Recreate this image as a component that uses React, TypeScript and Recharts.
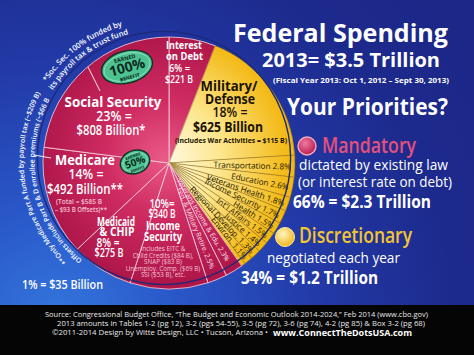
import { PieChart, Pie, Cell } from "recharts";

// slices clockwise from 12 o'clock, % of 2013 federal spending
const sliceNames = [
  "Interest on Debt",
  "Military/Defense",
  "Transportation",
  "Education",
  "Veterans Health",
  "Income Security",
  "Health",
  "Int'l Affairs",
  "Justice",
  "Regional Develop.",
  "Environ.",
  "Other",
  "Veterans Income & Edu.",
  "Fed. & Military Retire.",
  "Income Security",
  "Medicaid & CHIP",
  "Medicare",
  "Social Security",
];
const sliceShares = [6, 18, 2.8, 2.6, 1.8, 1.7, 1.5, 1.5, 1.4, 1.3, 1.1, 0.5, 2.3, 2.5, 10, 8, 14, 23];
// M = mandatory, D = discretionary
const sliceKinds = ["M", "D", "D", "D", "D", "D", "D", "D", "D", "D", "D", "D", "M", "M", "M", "M", "M", "M"];

const data = sliceNames.map((name, i) => ({ name, value: sliceShares[i], kind: sliceKinds[i] }));

const RAD = Math.PI / 180;
const CX = 164;
const CY = 158;
const R = 126;

const renderSliceLabel = (props: any) => {
  const { cx, cy, midAngle, outerRadius, index } = props;
  const share = sliceShares[index];
  const name = sliceNames[index];
  if (share >= 3 || name === "Other") return null;
  const disc = sliceKinds[index] === "D";
  const r = outerRadius - (disc ? 4 : 12);
  const x = cx + r * Math.cos(-midAngle * RAD);
  const y = cy + r * Math.sin(-midAngle * RAD);
  return (
    <text
      key={`lbl-${index}`}
      x={x}
      y={y}
      transform={`rotate(${-midAngle}, ${x}, ${y})`}
      textAnchor="end"
      dominantBaseline="central"
      fontSize={disc ? 8.2 : 7}
      fontFamily="'Open Sans', sans-serif"
      fill={disc ? "#241800" : "#fbe3ec"}
    >
      {`${name} ${share}%`}
    </text>
  );
};

const T = ({ x, y, s, c = "#fff", w, a = "start", b = 700, children }: any) => (
  <text
    x={x}
    y={y}
    fontSize={s}
    fill={c}
    fontWeight={b}
    textAnchor={a}
    textLength={w}
    lengthAdjust={w ? "spacingAndGlyphs" : undefined}
  >
    {children}
  </text>
);

// arc for the curved footnotes, angles in degrees clockwise from top
const arc = (r: number, a0: number, a1: number) => {
  const p = (a: number) => [163 + r * Math.sin(a * RAD), 160 - r * Math.cos(a * RAD)];
  const [x0, y0] = p(a0);
  const [x1, y1] = p(a1);
  return `M ${x0} ${y0} A ${r} ${r} 0 0 1 ${x1} ${y1}`;
};

const Badge = ({ x, y, rot, rx, ry, big, k }: any) => (
  <g transform={`translate(${x},${y}) rotate(${rot})`}>
    <ellipse rx={rx} ry={ry} fill="#4cc391" stroke="#0f3224" strokeWidth={1.4} />
    <ellipse rx={rx - 2.5} ry={ry - 2.5} fill="none" stroke="#c9f2de" strokeWidth={0.5} />
    <text y={-ry * 0.42} fontSize={5.5 * k} fontWeight={700} fill="#0d2a1e" textAnchor="middle">EARNED</text>
    <text y={ry * 0.32} fontSize={14 * k} fontWeight={700} fill="#0d2a1e" textAnchor="middle">{big}</text>
    <text y={ry * 0.78} fontSize={5 * k} fontWeight={700} fill="#0d2a1e" textAnchor="middle">BENEFIT</text>
  </g>
);

export default function App() {
  return (
    <div
      style={{
        position: "absolute",
        left: 0,
        top: 0,
        width: 474,
        height: 355,
        overflow: "hidden",
        background:
          "radial-gradient(circle at 12% 92%, #3478de 0%, #2a58c9 22%, #2239a6 50%, #1d2a8d 75%, #1c2786 100%)",
        fontFamily: "'Open Sans', sans-serif",
      }}
    >
      <div style={{ position: "absolute", left: 0, top: 0 }}>
        <PieChart width={474} height={355}>
          <defs>
            <radialGradient id="mandFill" gradientUnits="userSpaceOnUse" cx={CX} cy={CY} r={R}>
              <stop offset="0%" stopColor="#ea5a88" />
              <stop offset="45%" stopColor="#cf2c62" />
              <stop offset="100%" stopColor="#ae1649" />
            </radialGradient>
            <radialGradient id="discFill" gradientUnits="userSpaceOnUse" cx={CX} cy={CY} r={R}>
              <stop offset="0%" stopColor="#fffbe6" />
              <stop offset="45%" stopColor="#fde68e" />
              <stop offset="100%" stopColor="#f3b811" />
            </radialGradient>
          </defs>
          <Pie
            data={data}
            dataKey="value"
            nameKey="name"
            cx={CX}
            cy={CY}
            outerRadius={R}
            startAngle={90}
            endAngle={-270}
            labelLine={false}
            label={renderSliceLabel}
            isAnimationActive={false}
          >
            {data.map((d, i) => (
              <Cell
                key={`cell-${i}`}
                fill={d.kind === "M" ? "url(#mandFill)" : "url(#discFill)"}
                stroke={d.kind === "M" ? "#f6d6e0" : "#9a7412"}
                strokeWidth={d.kind === "M" ? 0.8 : 0.5}
              />
            ))}
          </Pie>
        </PieChart>
      </div>

      <svg
        width={474}
        height={355}
        style={{ position: "absolute", left: 0, top: 0, pointerEvents: "none" }}
        fontFamily="'Open Sans', sans-serif"
      >
        <defs>
          <radialGradient id="dotM" cx="40%" cy="35%" r="70%">
            <stop offset="0%" stopColor="#f07aa0" />
            <stop offset="100%" stopColor="#b3164b" />
          </radialGradient>
          <radialGradient id="dotD" cx="40%" cy="35%" r="70%">
            <stop offset="0%" stopColor="#fff6c8" />
            <stop offset="100%" stopColor="#f0b20c" />
          </radialGradient>
          <path id="arcSS1" d={arc(140, -58, -15)} />
          <path id="arcSS2" d={arc(130.5, -58, -15)} />
          <path id="arcMC1" d={arc(139.5, -138, -60)} />
          <path id="arcMC2" d={arc(128.5, -140, -62)} />
        </defs>

        {/* pie rim */}
        <circle cx={CX} cy={CY} r={R + 0.6} fill="none" stroke="#1c2a7a" strokeWidth={1.4} />

        {/* curved footnotes */}
        <text fontSize={7.6} fontWeight={600} fill="#fff">
          <textPath href="#arcSS1" startOffset="50%" textAnchor="middle">*Soc. Sec. 100% funded by</textPath>
        </text>
        <text fontSize={7.6} fontWeight={600} fill="#fff">
          <textPath href="#arcSS2" startOffset="50%" textAnchor="middle">its payroll tax &amp; trust fund</textPath>
        </text>
        <text fontSize={6.9} fontWeight={600} fill="#fff">
          <textPath href="#arcMC1" startOffset="50%" textAnchor="middle">
            **Only Medicare Part A funded by payroll tax (~$209 B)
          </textPath>
        </text>
        <text fontSize={6.9} fontWeight={600} fill="#fff">
          <textPath href="#arcMC2" startOffset="50%" textAnchor="middle">
            Offsets include Part B &amp; D enrollee premiums (~$66 B)
          </textPath>
        </text>
        <line x1={88} y1={67} x2={100} y2={91} stroke="#fff" strokeWidth={0.9} />
        <line x1={34} y1={155} x2={51} y2={158} stroke="#fff" strokeWidth={0.9} />

        {/* title block */}
        <T x={233} y={42} s={25} w={215}>Federal Spending</T>
        <T x={262} y={67} s={19.5} w={178}>2013= $3.5 Trillion</T>
        <T x={273} y={83} s={7.5} w={176}>(Fiscal Year 2013: Oct 1, 2012 – Sept 30, 2013)</T>
        <T x={287} y={115} s={23} w={161}>Your Priorities?</T>

        <circle cx={307} cy={146} r={9} fill="url(#dotM)" stroke="#f3a9c3" strokeWidth={1.4} />
        <T x={322} y={153} s={21} w={94} c="#e4507c" b={600}>Mandatory</T>
        <T x={299} y={170} s={15} w={149} b={400}>dictated by existing law</T>
        <T x={298} y={187} s={15} w={154} b={400}>(or interest rate on debt)</T>
        <T x={293} y={208} s={17} w={138}>66% = $2.3 Trillion</T>

        <circle cx={285} cy={237} r={9.5} fill="url(#dotD)" stroke="#fde9a0" strokeWidth={1} />
        <T x={299} y={243} s={21} w={113} c="#f3c530" b={600}>Discretionary</T>
        <T x={267} y={263} s={15} w={133} b={400}>negotiated each year</T>
        <T x={241} y={284} s={17} w={137}>34% = $1.2 Trillion</T>

        {/* big slice labels */}
        <T x={166} y={49} s={10.5} w={36}>Interest</T>
        <T x={166} y={60} s={10.5} w={37}>on Debt</T>
        <T x={169} y={72} s={10.5} w={21} b={600}>6% =</T>
        <T x={165} y={83} s={10.5} w={28} b={600}>$221 B</T>

        <T x={229} y={91} s={14.5} w={57} a="middle" c="#1a1200">Military/</T>
        <T x={230} y={104} s={14.5} w={50} a="middle" c="#1a1200">Defense</T>
        <T x={230} y={117} s={14.5} w={35} a="middle" c="#1a1200" b={600}>18% =</T>
        <T x={228} y={132} s={14.5} w={70} a="middle" c="#1a1200">$625 Billion</T>
        <T x={231} y={143} s={7} w={112} a="middle" c="#1a1200">(includes War Activities = $115 B)</T>

        <T x={113} y={107} s={15} w={97} a="middle">Social Security</T>
        <T x={114} y={121} s={14} w={36} a="middle" b={600}>23% =</T>
        <T x={111} y={135} s={14} w={69} a="middle" b={600}>$808 Billion*</T>

        <T x={85} y={165} s={14} w={60} a="middle">Medicare</T>
        <T x={86} y={179} s={14} w={35} a="middle" b={600}>14% =</T>
        <T x={85} y={194} s={14} w={76} a="middle" b={600}>$492 Billion**</T>
        <T x={79} y={204} s={7} w={46} a="middle" c="#f5c0d2" b={600}>(Total = $585 B</T>
        <T x={81} y={212} s={7} w={52} a="middle" c="#f5c0d2" b={600}>– $93 B Offsets)**</T>

        <T x={116} y={226} s={12} w={38} a="middle">Medicaid</T>
        <T x={117} y={236} s={12} w={35} a="middle">&amp; CHIP</T>
        <T x={108} y={247} s={12} w={23} a="middle" b={600}>8% =</T>
        <T x={109} y={257} s={12} w={29} a="middle" b={600}>$275 B</T>

        <T x={162} y={208} s={12} w={25} a="middle" b={600}>10%=</T>
        <T x={162} y={218} s={12} w={27} a="middle" b={600}>$340 B</T>
        <T x={163} y={230} s={12} w={34} a="middle">Income</T>
        <T x={163} y={241} s={12} w={38} a="middle">Security</T>
        <T x={163} y={251} s={6.3} a="middle" c="#f5c0d2" b={400}>includes EITC &amp;</T>
        <T x={163} y={257.5} s={6.3} a="middle" c="#f5c0d2" b={400}>Child Credits ($84 B),</T>
        <T x={163} y={264} s={6.3} a="middle" c="#f5c0d2" b={400}>SNAP ($83 B)</T>
        <T x={163} y={270.5} s={6.3} a="middle" c="#f5c0d2" b={400}>Unemploy. Comp. ($69 B)</T>
        <T x={163} y={277} s={6.3} a="middle" c="#f5c0d2" b={400}>SSI ($53 B), etc.</T>

        <Badge x={127} y={67} rot={-15} rx={26} ry={16} big="100%" k={1} />
        <Badge x={135} y={162} rot={-20} rx={15} ry={11.5} big="50%" k={0.72} />

        <T x={22} y={289} s={12} w={81} b={600}>1% = $35 Billion</T>

        {/* footer */}
        <rect x={0} y={305} width={474} height={50} fill="#050505" />
        <T x={45} y={317} s={7.3} w={383} c="#e8e8e8" b={400}>
          Source: Congressional Budget Office, “The Budget and Economic Outlook 2014-2024,” Feb 2014 (www.cbo.gov)
        </T>
        <T x={57} y={326} s={7.3} w={368} c="#e8e8e8" b={400}>
          2013 amounts in Tables 1-2 (pg 12), 3-2 (pgs 54-55), 3-5 (pg 72), 3-6 (pg 74), 4-2 (pg 85) &amp; Box 3-2 (pg 68)
        </T>
        <T x={52} y={335} s={7.3} w={216} c="#e8e8e8" b={400}>
          ©2011-2014 Design by Witte Design, LLC • Tucson, Arizona •
        </T>
        <T x={273} y={335.5} s={9} w={139} c="#ffffff">www.ConnectTheDotsUSA.com</T>
      </svg>
    </div>
  );
}
